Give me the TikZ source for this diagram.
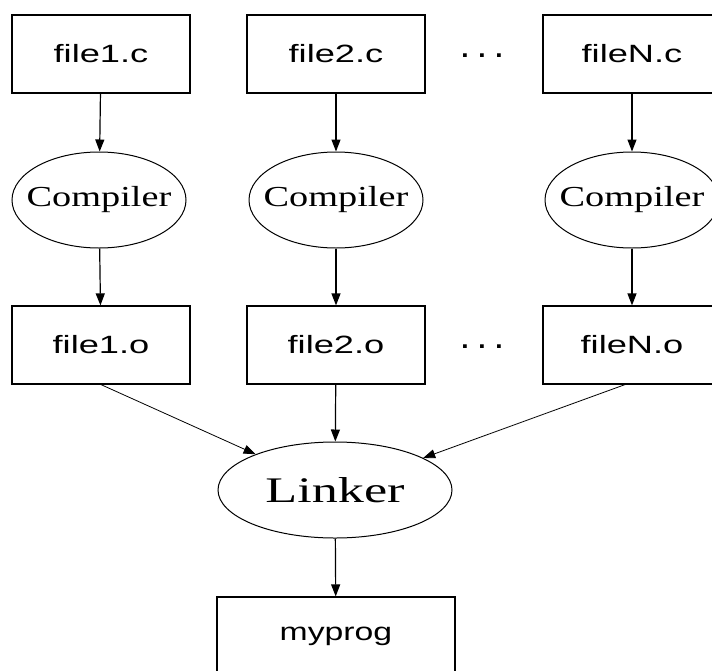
\documentclass[tikz,border=0pt]{standalone}
\usepackage{fontspec}
\setmainfont{Liberation Serif}
\setsansfont{Liberation Sans}
\usetikzlibrary{arrows.meta,shapes.geometric}
\begin{document}
\begin{tikzpicture}[x=1pt,y=-1pt,
  filebox/.style={draw=black,line width=1.2pt,rectangle,minimum width=178pt,minimum height=78pt,inner sep=0pt,
    font=\sffamily\fontsize{25}{28}\selectfont},
  proc/.style={draw=black,line width=1pt,ellipse,minimum width=174pt,minimum height=96pt,inner sep=0pt,
    font=\rmfamily\fontsize{29}{32}\selectfont},
  link/.style={draw=black,line width=1pt,ellipse,minimum width=234pt,minimum height=96pt,inner sep=0pt,
    font=\rmfamily\fontsize{36}{40}\selectfont},
  dots/.style={inner sep=0pt,font=\sffamily\bfseries\fontsize{25}{28}\selectfont},
  arr/.style={line width=1.2pt,-{Triangle[length=12pt,width=9pt]}},
  darr/.style={line width=0.8pt,-{Triangle[length=12pt,width=9pt]}}
]
\useasboundingbox (0,0) rectangle (712,670);
\fill[white] (0,0) rectangle (712,670);

\newcommand{\sx}[2]{\makebox[0pt]{\scalebox{#1}[1]{#2}}}

% top row
\node[filebox] (f1c) at (101,54) {\sx{1.45}{file1.c}};
\node[filebox] (f2c) at (336,54) {\sx{1.45}{file2.c}};
\node[filebox] (fNc) at (632,54) {\sx{1.45}{fileN.c}};
\node[dots] (d1) at (482,56) {\sx{1.05}{. . .}};

% compilers
\node[proc] (c1) at (99,200) {\sx{1.32}{Compiler}};
\node[proc] (c2) at (336,200) {\sx{1.32}{Compiler}};
\node[proc] (c3) at (632,200) {\sx{1.32}{Compiler}};

% object row
\node[filebox] (f1o) at (101,345) {\sx{1.45}{file1.o}};
\node[filebox] (f2o) at (336,345) {\sx{1.45}{file2.o}};
\node[filebox] (fNo) at (632,345) {\sx{1.45}{fileN.o}};
\node[dots] (d2) at (482,347) {\sx{1.05}{. . .}};

% linker
\node[link] (lk) at (335,490) {\sx{1.45}{Linker}};

% output
\node[filebox,minimum width=238pt] (mp) at (336,636) {\sx{1.35}{myprog}};

% connectors
\draw[arr] (f1c) -- (c1);
\draw[arr] (f2c) -- (c2);
\draw[arr] (fNc) -- (c3);
\draw[arr] (c1) -- (f1o);
\draw[arr] (c2) -- (f2o);
\draw[arr] (c3) -- (fNo);
\draw[darr] (f1o.south) -- (lk);
\draw[arr] (f2o) -- (lk);
\draw[darr] ([xshift=-7pt]fNo.south) -- (lk);
\draw[arr] (lk) -- (mp);
\end{tikzpicture}
\end{document}
